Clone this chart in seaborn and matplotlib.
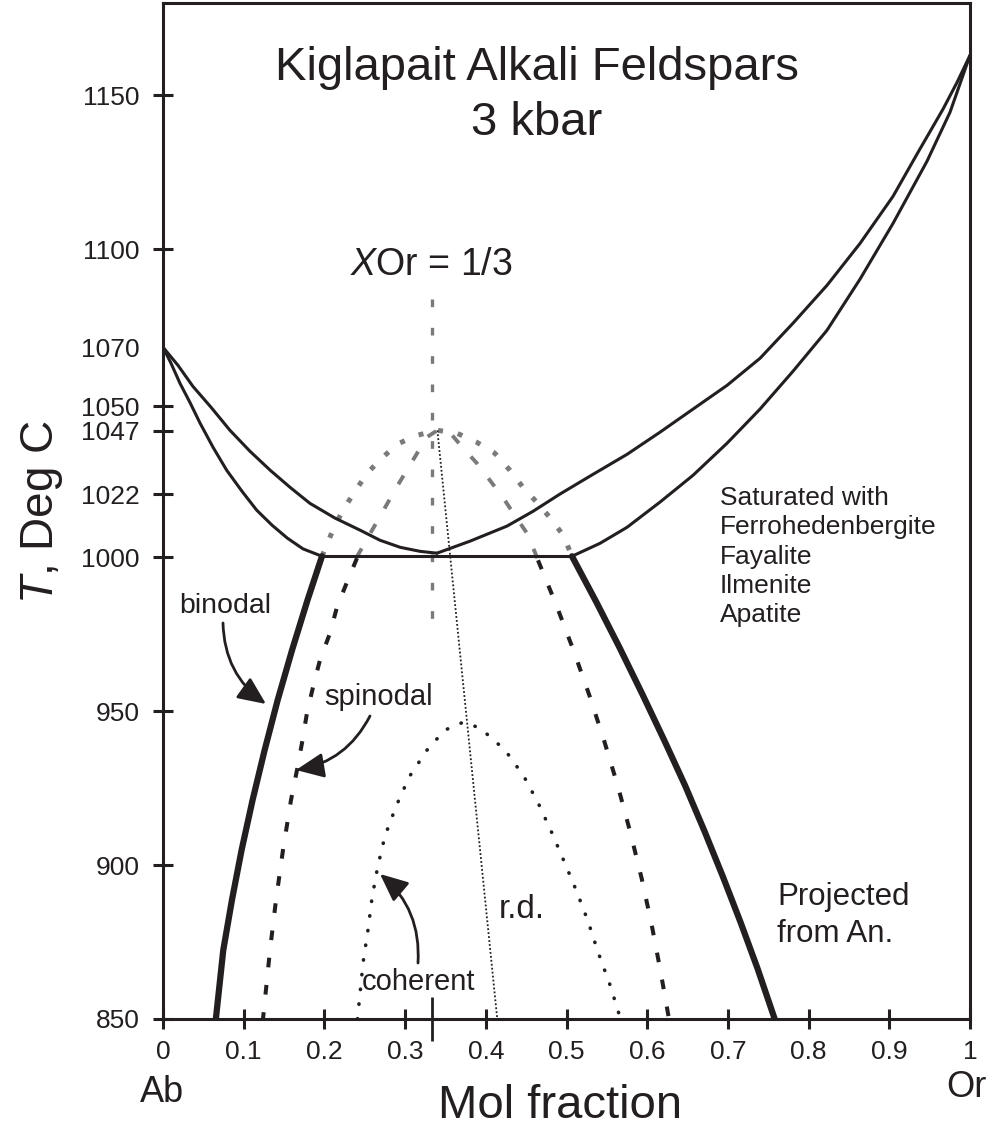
import numpy as np
import pandas as pd
import matplotlib
matplotlib.use("Agg")
import matplotlib.pyplot as plt
import seaborn as sns

# ---------------- data ----------------
# liquidus / solidus loops (T in deg C vs mol fraction Or)
liq_left_x = [0.0, 0.0186, 0.037, 0.0595, 0.083, 0.1078, 0.133, 0.1574, 0.182, 0.2131,
              0.244, 0.2689, 0.294, 0.3185, 0.3395]
liq_left_T = [1068.2, 1062.3, 1055.5, 1048.7, 1041.2, 1034.4, 1028.2, 1022.7, 1017.5, 1012.7,
              1008.8, 1005.5, 1003.2, 1001.9, 1001.3]
sol_left_x = [0.0, 0.0099, 0.021, 0.0335, 0.046, 0.062, 0.079, 0.0979, 0.116, 0.1351,
              0.154, 0.1735, 0.197]
sol_left_T = [1068.2, 1063.0, 1056.5, 1050.2, 1043.5, 1035.7, 1028.2, 1021.4, 1015.3, 1010.4,
              1006.2, 1002.7, 1000.3]
liq_right_x = [0.3395, 0.3804, 0.4263, 0.4585, 0.4919, 0.5328, 0.5750, 0.6159, 0.6568, 0.6989,
               0.7398, 0.7807, 0.8228, 0.8637, 0.9046, 0.9356, 0.9665, 0.9839, 1.0]
liq_right_T = [1001.3, 1005.2, 1010.1, 1014.9, 1020.5, 1026.9, 1033.4, 1040.6, 1048.1, 1055.8,
               1064.6, 1076.0, 1088.3, 1101.9, 1117.2, 1131.5, 1145.5, 1154.2, 1163.0]
sol_right_x = [0.5068, 0.5415, 0.5750, 0.6159, 0.6568, 0.6989, 0.7398, 0.7807, 0.8228, 0.8637,
               0.9046, 0.9467, 0.9752, 1.0]
sol_right_T = [1000.3, 1004.5, 1009.7, 1017.9, 1026.6, 1037.0, 1048.1, 1060.4, 1073.7, 1090.3,
               1108.4, 1128.6, 1144.5, 1163.0]
iso_x = [0.197, 0.5068]
iso_T = [1000.3, 1000.3]

# binodal (solvus), stable part below 1000
bin_left_x = [0.197, 0.179, 0.1599, 0.1421, 0.1259, 0.1110, 0.0974, 0.0854, 0.0747, 0.0655]
bin_left_T = [1000.3, 986.0, 969.8, 953.6, 937.3, 921.1, 904.9, 888.6, 872.4, 850.0]
bin_right_x = [0.5068, 0.537, 0.566, 0.594, 0.621, 0.647, 0.671, 0.694, 0.716, 0.737, 0.758]
bin_right_T = [1000.3, 985.4, 970.5, 955.5, 940.6, 925.8, 911.0, 896.1, 881.2, 866.2, 850.0]
# binodal, metastable part above 1000 (grey dotted)
bin_meta_x = [0.197, 0.211, 0.223, 0.238, 0.253, 0.271, 0.290, 0.315, 0.340,
              0.364, 0.389, 0.411, 0.430, 0.446, 0.463, 0.480, 0.496, 0.5068]
bin_meta_T = [1000.3, 1009.1, 1015.3, 1021.4, 1027.3, 1032.1, 1036.7, 1039.6, 1041.2,
              1040.3, 1037.3, 1033.8, 1028.2, 1022.7, 1017.9, 1012.7, 1007.1, 1000.3]

# spinodal
spin_left_x = [0.2404, 0.2280, 0.2156, 0.2069, 0.1945, 0.1859, 0.1784, 0.1722, 0.1660,
               0.1586, 0.1487, 0.1400, 0.1326, 0.1239]
spin_left_T = [999.7, 991.9, 983.8, 975.3, 966.6, 957.8, 949.4, 939.6, 930.8,
               921.1, 904.9, 888.6, 872.4, 850.0]
spin_right_x = [0.4647, 0.4876, 0.5090, 0.5289, 0.5472, 0.5641, 0.5793, 0.5932, 0.6054, 0.6161, 0.627]
spin_right_T = [999.0, 984.3, 969.5, 954.7, 939.9, 925.2, 910.4, 895.6, 880.8, 866.1, 850.0]
spin_meta_x = [0.240, 0.257, 0.291, 0.327, 0.340, 0.356, 0.372, 0.389, 0.405, 0.421, 0.434, 0.451, 0.465]
spin_meta_T = [1000.0, 1007.8, 1023.4, 1039.0, 1041.2, 1040.3, 1035.4, 1030.5, 1025.0, 1019.5,
               1014.3, 1007.8, 999.0]

# coherent solvus
coh_x = [0.241, 0.248, 0.254, 0.259, 0.266, 0.275, 0.289, 0.305, 0.327, 0.349, 0.372,
         0.393, 0.424, 0.447, 0.465, 0.482, 0.498, 0.513, 0.527, 0.539, 0.554, 0.567]
coh_T = [850.0, 868.5, 878.9, 889.3, 899.4, 909.4, 919.2, 928.6, 937.3, 943.8, 946.4,
         944.5, 937.3, 928.9, 920.1, 910.4, 900.6, 891.2, 881.5, 871.8, 861.0, 850.0]

# r.d. line and XOr = 1/3 line
rd_x = [0.340, 0.4142]
rd_T = [1041.2, 850.0]
xor_x = [1 / 3, 1 / 3]
xor_T = [1084.0, 974.0]

# ticks
xtick_vals = [0, 0.1, 0.2, 0.3, 0.4, 0.5, 0.6, 0.7, 0.8, 0.9, 1.0]
xtick_labels = ["0", "0.1", "0.2", "0.3", "0.4", "0.5", "0.6", "0.7", "0.8", "0.9", "1"]
ytick_pos = [850, 900, 950, 1000, 1020.5, 1041, 1049, 1068, 1100, 1150]
ytick_labels = ["850", "900", "950", "1000", "1022", "1047", "1050", "1070", "1100", "1150"]

saturated_lines = ["Saturated with", "Ferrohedenbergite", "Fayalite", "Ilmenite", "Apatite"]

# ---------------- style ----------------
sns.set_theme(style="white")
plt.rcParams["font.family"] = ["Liberation Sans", "DejaVu Sans"]
plt.rcParams["mathtext.fontset"] = "custom"
plt.rcParams["mathtext.rm"] = "Liberation Sans"
plt.rcParams["mathtext.it"] = "Liberation Sans:italic"

INK = "#231f20"
GREY = "#7a7a7a"
W, H = 998, 1137

fig = plt.figure(figsize=(W / 100, H / 100), dpi=100)
fig.patch.set_facecolor("white")
ax = fig.add_axes([163 / W, 1 - 1019 / H, (970 - 163) / W, (1019 - 3) / H])
ax.set_facecolor("white")


def curve(x, y, **kw):
    sns.lineplot(x=x, y=y, sort=False, estimator=None, ax=ax, legend=False, **kw)


# grey metastable curves and 1/3 line
curve(xor_x, xor_T, color=GREY, linewidth=2.4, linestyle=(0, (2.3, 6.2)))
curve(bin_meta_x, bin_meta_T, color=GREY, linewidth=3.6, linestyle=(0, (1, 3)))
curve(spin_meta_x, spin_meta_T, color=GREY, linewidth=2.8, linestyle=(0, (2.6, 4.6)))

# liquidus / solidus
for xs, ts in [(liq_left_x, liq_left_T), (sol_left_x, sol_left_T),
               (liq_right_x, liq_right_T), (sol_right_x, sol_right_T), (iso_x, iso_T)]:
    curve(xs, ts, color=INK, linewidth=2.2)

# binodal (thick)
curve(bin_left_x, bin_left_T, color=INK, linewidth=4.5)
curve(bin_right_x, bin_right_T, color=INK, linewidth=4.5)

# spinodal (black dashed)
curve(spin_left_x, spin_left_T, color=INK, linewidth=2.9, linestyle=(0, (2.4, 4.4)))
curve(spin_right_x, spin_right_T, color=INK, linewidth=2.9, linestyle=(0, (2.4, 4.4)))

# coherent (round dots)
curve(coh_x, coh_T, color=INK, linewidth=2.6, linestyle=(0, (0.1, 4.0)),
      dash_capstyle="round")

# r.d. (fine dots)
curve(rd_x, rd_T, color=INK, linewidth=1.3, linestyle=(0, (1, 1.2)))

# ---------------- axes ----------------
ax.set_xlim(0, 1)
ax.set_ylim(850, 1180)
ax.set_xlabel("")
ax.set_ylabel("")
ax.set_xticks(xtick_vals)
ax.set_xticklabels(xtick_labels)
ax.set_yticks(ytick_pos)
ax.set_yticklabels(ytick_labels)
ax.set_xticks([1 / 3], minor=True)
ax.tick_params(axis="both", which="major", direction="inout", length=14, width=2.2,
               color=INK, labelsize=19, labelcolor=INK, bottom=True, left=True)
ax.tick_params(axis="x", which="major", pad=8)
ax.tick_params(axis="y", which="major", pad=10)
ax.tick_params(axis="x", which="minor", direction="inout", length=31, width=2.0,
               color=INK, bottom=True)
for i, lab in enumerate(ytick_labels):
    if lab == "1070":
        ax.yaxis.get_major_ticks()[i].tick1line.set_visible(False)
for s in ax.spines.values():
    s.set_visible(True)
    s.set_linewidth(2.2)
    s.set_color(INK)
ax.grid(False)


def fx(x):
    return x / W


def fy(y):
    return 1 - y / H


# ---------------- text ----------------
fig.text(fx(537), fy(80), "Kiglapait Alkali Feldspars", ha="center", va="baseline",
         fontsize=34, color=INK)
fig.text(fx(537), fy(135), "3 kbar", ha="center", va="baseline", fontsize=34, color=INK)
fig.text(fx(431), fy(275), "$\\mathit{X}$Or = 1/3", ha="center", va="baseline",
         fontsize=27, color=INK)
fig.text(fx(42), fy(512), "$\\mathit{T}$, Deg C", ha="center", va="center",
         rotation=90, fontsize=33, color=INK)
fig.text(fx(560), fy(1118), "Mol fraction", ha="center", va="baseline", fontsize=34, color=INK)
fig.text(fx(162), fy(1102), "Ab", ha="center", va="baseline", fontsize=26, color=INK)
fig.text(fx(966), fy(1097), "Or", ha="center", va="baseline", fontsize=26, color=INK)

for k, line in enumerate(saturated_lines):
    fig.text(fx(720), fy(505 + 29.3 * k), line, ha="left", va="baseline",
             fontsize=19, color=INK)
fig.text(fx(777), fy(905), "Projected", ha="left", va="baseline", fontsize=22.5, color=INK)
fig.text(fx(777), fy(942), "from An.", ha="left", va="baseline", fontsize=22.5, color=INK)
fig.text(fx(179), fy(613), "binodal", ha="left", va="baseline", fontsize=20.5, color=INK)
fig.text(fx(324), fy(705), "spinodal", ha="left", va="baseline", fontsize=21, color=INK)
fig.text(fx(362), fy(990), "coherent", ha="left", va="baseline", fontsize=21, color=INK)
fig.text(fx(499), fy(918), "r.d.", ha="left", va="baseline", fontsize=24, color=INK)

# ---------------- arrows ----------------
arrow_kw = dict(arrowstyle="-|>,head_length=0.85,head_width=0.38", mutation_scale=20,
                lw=2.0, color=INK, shrinkA=0, shrinkB=0)
for (x0, y0), (x1, y1), rad in [((223, 623), (266, 704), 0.25),
                                ((370, 716), (296, 770), -0.25),
                                ((418, 963), (380, 874), 0.25)]:
    ax.annotate("", xy=(x1, H - y1), xycoords="figure pixels",
                xytext=(x0, H - y0), textcoords="figure pixels",
                arrowprops=dict(connectionstyle=f"arc3,rad={rad}", **arrow_kw))

fig.savefig("out.png", dpi=100, facecolor="white")
